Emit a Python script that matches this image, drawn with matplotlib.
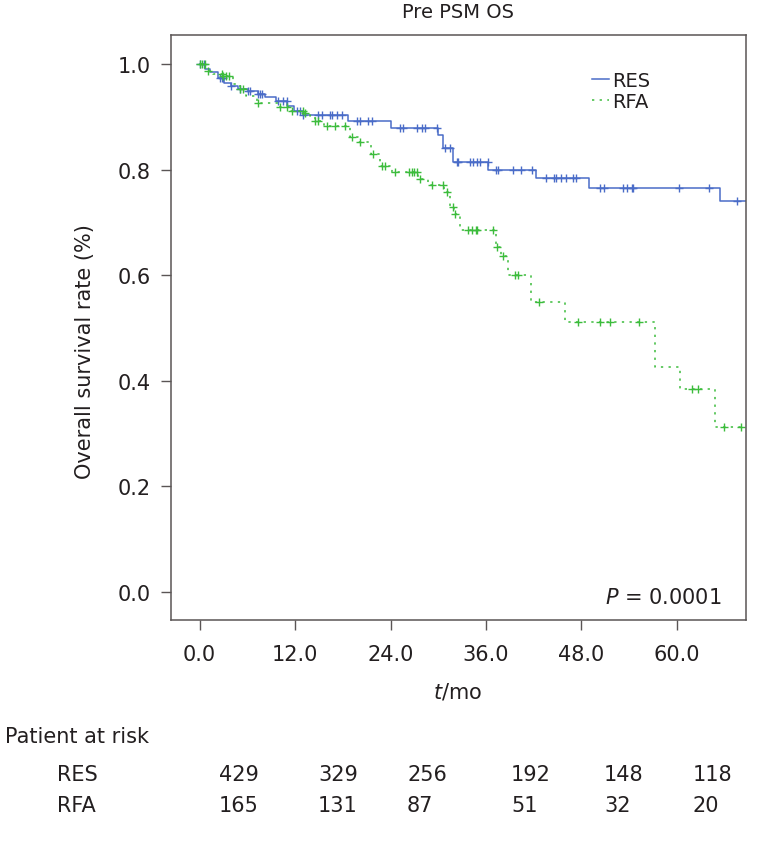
import numpy as np
import matplotlib
matplotlib.use("Agg")
import matplotlib.pyplot as plt
from matplotlib.lines import Line2D

# ---------------- data ----------------
title = "Pre PSM OS"
groups = ["RES", "RFA"]
p_text = "0.0001"

# RES (resection) Kaplan-Meier steps: time (months), survival
res_t = [0.0, 0.7, 1.3, 2.3, 3.1, 4.0, 4.8, 6.1, 7.35, 8.2, 9.6, 11.0, 11.9, 13.0,
         18.7, 24.0, 30.0, 30.6, 31.8, 36.3, 42.3, 49.0, 65.4, 68.7]
res_s = [1.0, 0.990, 0.984, 0.973, 0.965, 0.959, 0.953, 0.948, 0.943, 0.938, 0.930, 0.921, 0.912, 0.903,
         0.892, 0.878, 0.866, 0.841, 0.814, 0.800, 0.784, 0.765, 0.741, 0.741]
res_cens = [0.06, 0.5, 2.6, 2.8, 3.0, 4.0, 5.1, 6.1, 6.35, 7.4, 7.6, 7.8, 9.9, 10.5, 10.96,
            12.2, 12.6, 13.05, 14.9, 15.4, 16.4, 16.6, 17.25, 17.9, 19.8, 20.2, 21.2, 21.65,
            25.2, 25.6, 27.3, 27.9, 28.35, 29.8, 30.9, 31.5, 32.3, 32.5, 34.0, 34.35, 34.85,
            35.3, 36.2, 37.3, 37.5, 39.4, 40.4, 41.8, 43.6, 44.6, 44.8, 45.4, 46.1, 46.9, 47.3,
            50.3, 50.9, 53.2, 53.7, 54.4, 54.5, 60.3, 64.1, 67.6]

# RFA (radiofrequency ablation) Kaplan-Meier steps
rfa_t = [0.0, 0.7, 1.1, 1.7, 3.0, 4.25, 5.1, 5.85, 7.2, 9.9, 11.4, 13.3, 13.9, 14.5, 15.6,
         18.9, 19.9, 21.6, 22.7, 24.2, 27.4, 28.7, 30.7, 31.5, 32.0, 32.75, 37.3, 37.9,
         38.8, 41.7, 46.0, 57.3, 60.4, 64.8, 68.7]
rfa_s = [1.0, 0.990, 0.987, 0.981, 0.977, 0.962, 0.953, 0.940, 0.927, 0.918, 0.912, 0.908, 0.902, 0.893, 0.882,
         0.861, 0.852, 0.830, 0.807, 0.796, 0.782, 0.771, 0.757, 0.729, 0.716, 0.686, 0.653, 0.636,
         0.601, 0.549, 0.512, 0.427, 0.384, 0.312, 0.312]
rfa_cens = [0.0, 0.27, 0.69, 1.1, 2.8, 3.0, 3.33, 3.63, 5.1, 5.5, 7.4, 10.1, 11.0, 11.6, 13.05,
            13.3, 14.5, 14.9, 16.0, 17.0, 18.3, 19.1, 20.2, 21.8, 22.9, 23.3, 24.6, 26.3, 26.7,
            27.0, 27.3, 27.7, 29.2, 30.65, 31.1, 31.8, 32.1, 33.8, 34.2, 34.8, 34.9, 36.9, 37.4,
            38.2, 39.7, 40.0, 42.7, 47.6, 50.3, 51.6, 55.3, 61.9, 62.7, 65.9, 68.05]

x_ticks = [0, 12, 24, 36, 48, 60]
y_ticks = [0.0, 0.2, 0.4, 0.6, 0.8, 1.0]
risk_res = [429, 329, 256, 192, 148, 118]
risk_rfa = [165, 131, 87, 51, 32, 20]

# ---------------- style ----------------
plt.rcParams['font.family'] = ['DejaVu Sans']
W, H = 767, 845
fig = plt.figure(figsize=(W / 100, H / 100), dpi=100)
ax = fig.add_axes([171 / W, 1 - 621 / H, (746 - 171) / W, (621 - 36) / H])

blue = "#4a6cc8"
green = "#3cbc3c"
txt = "#231f20"
spine_c = "#5a5555"


def step_at(t, s, c):
    t = np.asarray(t)
    s = np.asarray(s)
    idx = np.searchsorted(t, c, side='right') - 1
    return s[np.clip(idx, 0, len(s) - 1)]


ax.step(res_t, res_s, where='post', color=blue, lw=1.1)
ax.plot(res_cens, step_at(res_t, res_s, res_cens), ls='none', marker='+',
        ms=6, mew=1.0, color=blue)

ax.step(rfa_t, rfa_s, where='post', color=green, lw=1.1, ls=(0, (1.5, 3.5)))
ax.plot(rfa_cens, step_at(rfa_t, rfa_s, rfa_cens), ls='none', marker='+',
        ms=6, mew=1.0, color=green)

ax.set_xlim(-3.6, 68.7)
ax.set_ylim(-0.053, 1.055)
ax.set_xticks(x_ticks)
ax.set_xticklabels([f"{v:.1f}" for v in x_ticks])
ax.set_yticks(y_ticks)
ax.set_yticklabels([f"{v:.1f}" for v in y_ticks])
ax.tick_params(axis='both', direction='out', length=7.5, width=1.0, color=spine_c,
               labelsize=15, labelcolor=txt)
ax.tick_params(axis='x', pad=10)
ax.tick_params(axis='y', pad=7)
for sp in ax.spines.values():
    sp.set_color(spine_c)
    sp.set_linewidth(1.1)

# legend
handles = [Line2D([], [], color=blue, lw=1.1),
           Line2D([], [], color=green, lw=1.1, ls=(0, (1.5, 3.5)))]
leg = fig.legend(handles, groups, loc='upper left', bbox_to_anchor=(582 / W, 1 - 62 / H),
                 frameon=False, fontsize=14, handlelength=0.9, handletextpad=0.15,
                 labelspacing=0.1, borderpad=0, labelcolor=txt)

ax.text(0.958, 0.039, f"$P$ = {p_text}", transform=ax.transAxes, ha='right', va='center',
        fontsize=15, color=txt)

fig.text(458 / W, 1 - 12 / H, title, ha='center', va='center', fontsize=14, color=txt)
fig.text(85 / W, 1 - 352 / H, "Overall survival rate (%)", rotation=90, ha='center',
         va='center', fontsize=15, color=txt)
fig.text(458 / W, 1 - 692 / H, "$t$/mo", ha='center', va='center', fontsize=15, color=txt)

# risk table
fig.text(5 / W, 1 - 737 / H, "Patient at risk", ha='left', va='center', fontsize=15, color=txt)
fig.text(57 / W, 1 - 775 / H, groups[0], ha='left', va='center', fontsize=15, color=txt)
fig.text(57 / W, 1 - 806 / H, groups[1], ha='left', va='center', fontsize=15, color=txt)
col_x = [219, 318, 407, 511, 604, 693]
for cx, a, b in zip(col_x, risk_res, risk_rfa):
    fig.text(cx / W, 1 - 775 / H, str(a), ha='left', va='center', fontsize=15, color=txt)
    fig.text(cx / W, 1 - 806 / H, str(b), ha='left', va='center', fontsize=15, color=txt)

fig.savefig("out.png", dpi=100, facecolor='white')
